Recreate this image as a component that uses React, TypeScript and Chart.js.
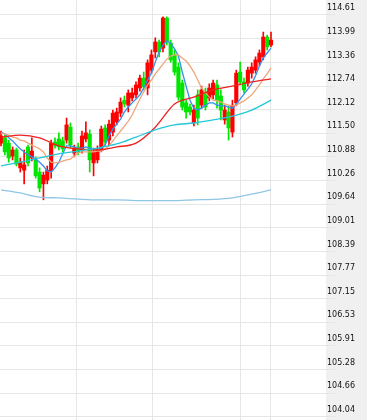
import React, { useEffect, useRef } from "react";
import { Chart, registerables } from "chart.js";
Chart.register(...registerables);

// OHLC (index 0 = leftmost candle)
const opens = [
  111.24, 111.38, 111.24, 110.90, 111.06, 110.59, 110.53, 111.14, 110.85, 110.80,
  110.48, 110.17, 110.27, 110.51, 111.27, 111.35, 111.30, 111.32, 111.66, 110.98,
  111.14, 111.06, 111.35, 111.48, 110.72, 110.80, 111.06, 111.64, 111.32, 111.53,
  111.80, 112.03, 112.37, 112.24, 112.43, 112.51, 112.69, 112.95, 112.69, 113.16,
  113.64, 113.90, 113.74, 114.53, 113.87, 113.56, 113.24, 112.82, 112.30, 112.19,
  111.77, 112.51, 112.24, 112.59, 112.43, 112.51, 112.77, 112.48, 111.85, 112.06,
  111.53, 112.30, 113.11, 112.85, 112.82, 113.08, 113.16, 113.37, 113.51, 114.03,
  113.82,
];
const highs = [
  111.56, 111.45, 111.32, 111.14, 111.11, 110.85, 111.06, 111.19, 111.38, 110.88,
  110.59, 110.48, 110.64, 111.32, 111.38, 111.51, 111.40, 111.90, 111.77, 111.19,
  111.24, 111.56, 111.80, 111.59, 111.11, 111.17, 111.69, 111.72, 111.85, 112.11,
  112.16, 112.43, 112.48, 112.64, 112.69, 112.85, 113.03, 113.11, 113.43, 113.69,
  114.01, 113.95, 114.56, 114.56, 113.95, 113.69, 113.35, 112.90, 112.37, 112.27,
  112.24, 112.64, 112.74, 112.69, 112.80, 112.90, 112.90, 112.64, 112.24, 112.22,
  112.37, 113.16, 113.37, 112.95, 113.24, 113.35, 113.51, 113.69, 114.16, 114.08,
  114.16,
];
const lows = [
  111.17, 110.93, 110.74, 110.80, 110.64, 110.48, 110.17, 110.64, 110.77, 110.32,
  109.96, 109.75, 110.17, 110.32, 111.11, 111.06, 111.01, 111.24, 111.11, 110.88,
  110.93, 110.98, 111.27, 110.48, 110.38, 110.72, 111.01, 111.19, 111.19, 111.43,
  111.72, 111.93, 112.19, 112.06, 112.35, 112.43, 112.61, 112.64, 112.51, 113.08,
  113.48, 113.51, 113.64, 113.82, 113.37, 113.03, 112.37, 112.11, 111.90, 111.98,
  111.69, 111.72, 112.16, 112.11, 112.35, 112.40, 112.16, 111.85, 111.74, 111.32,
  111.40, 112.22, 112.77, 112.56, 112.74, 112.95, 113.08, 113.27, 113.43, 113.69,
  113.77,
];
const closes = [
  111.43, 111.01, 110.85, 111.06, 110.69, 110.74, 110.67, 110.72, 111.03, 110.38,
  110.06, 110.40, 110.53, 111.24, 111.17, 111.14, 111.09, 111.72, 111.19, 111.11,
  111.01, 111.43, 111.51, 110.80, 111.01, 111.06, 111.61, 111.27, 111.74, 112.03,
  112.06, 112.32, 112.27, 112.56, 112.56, 112.77, 112.95, 112.72, 113.35, 113.56,
  113.90, 113.64, 114.53, 113.90, 113.43, 113.11, 112.45, 112.19, 112.06, 112.06,
  112.11, 111.90, 112.64, 112.19, 112.69, 112.82, 112.37, 112.11, 112.11, 111.64,
  112.24, 113.08, 112.85, 112.64, 113.16, 113.24, 113.43, 113.61, 114.03, 113.77,
  113.95,
];

// Moving-average lines
const ma5 = [
  111.53, 111.48, 111.38, 111.30, 111.19, 111.09, 111.01, 110.93, 110.88, 110.82,
  110.74, 110.64, 110.51, 110.48, 110.59, 110.74, 110.96, 111.17, 111.17, 111.14,
  111.11, 111.11, 111.14, 111.11, 111.09, 111.09, 111.11, 111.19, 111.43, 111.61,
  111.74, 111.87, 112.06, 112.19, 112.30, 112.40, 112.51, 112.69, 112.90, 113.08,
  113.37, 113.64, 113.82, 113.93, 113.87, 113.72, 113.53, 113.11, 112.74, 112.37,
  112.16, 112.11, 112.16, 112.24, 112.30, 112.30, 112.24, 112.22, 112.22, 112.19,
  112.16, 112.27, 112.40, 112.53, 112.66, 112.80, 113.01, 113.27, 113.48, 113.61,
  113.74,
];
const ma10 = [
  111.51, 111.48, 111.45, 111.40, 111.38, 111.32, 111.30, 111.24, 111.19, 111.14,
  111.09, 111.01, 110.85, 110.74, 110.72, 110.74, 110.77, 110.80, 110.82, 110.90,
  110.98, 111.01, 111.01, 111.01, 111.01, 111.03, 111.03, 111.09, 111.17, 111.30,
  111.43, 111.56, 111.69, 111.82, 111.98, 112.19, 112.40, 112.59, 112.77, 112.90,
  113.06, 113.19, 113.32, 113.45, 113.53, 113.56, 113.56, 113.48, 113.40, 113.27,
  113.11, 112.90, 112.69, 112.56, 112.45, 112.37, 112.35, 112.32, 112.27, 112.24,
  112.22, 112.24, 112.30, 112.35, 112.43, 112.51, 112.64, 112.77, 112.93, 113.06,
  113.22,
];
const slowIdx = [0, 5, 10, 15, 20, 25, 30, 35, 40, 45, 50, 55, 60, 65, 70];
const maRed = [111.40, 111.45, 111.38, 111.17, 111.09, 111.06, 111.14, 111.24, 111.66, 112.27, 112.45, 112.64, 112.74, 112.85, 112.93];
const maCyan = [110.64, 110.74, 110.85, 110.96, 111.03, 111.11, 111.22, 111.40, 111.59, 111.72, 111.77, 111.85, 111.95, 112.11, 112.37];
const maSlow = [110.01, 109.93, 109.82, 109.80, 109.77, 109.75, 109.75, 109.73, 109.73, 109.73, 109.75, 109.76, 109.80, 109.90, 110.01];

const yTicks = [
  104.04, 104.66, 105.28, 105.91, 106.53, 107.15, 107.77, 108.39, 109.01,
  109.64, 110.26, 110.88, 111.5, 112.12, 112.74, 113.36, 113.99, 114.61,
];
const xGridTicks = [19.45, 39.3, 62.1, 69.9];

const UP = "#ff0000";
const DOWN = "#00e600";
const GRID = "#e6e6e6";

const panelPlugin = {
  id: "rightPanel",
  beforeDraw(chart: any) {
    const { ctx, chartArea, width, height } = chart;
    ctx.save();
    ctx.fillStyle = "#f0f0f0";
    ctx.fillRect(chartArea.right, 0, width - chartArea.right, height);
    ctx.restore();
  },
};

export default function App() {
  const ref = useRef<HTMLCanvasElement | null>(null);
  useEffect(() => {
    if (!ref.current) return;
    const colors = closes.map((c, i) => (c >= opens[i] ? UP : DOWN));
    const idx = (arr: number[]) => arr.map((v, i) => ({ x: i, y: v }));
    const slow = (arr: number[]) => arr.map((v, k) => ({ x: slowIdx[k], y: v }));
    const lineDs = (label: string, data: any[], color: string, smooth: boolean) => ({
      type: "line" as const,
      label,
      data,
      borderColor: color,
      backgroundColor: color,
      borderWidth: 1.3,
      pointRadius: 0,
      tension: 0,
      cubicInterpolationMode: smooth ? ("monotone" as const) : ("default" as const),
      order: 0,
    });
    const chart = new Chart(ref.current, {
      type: "bar",
      data: {
        datasets: [
          {
            type: "bar",
            label: "wick",
            data: lows.map((l, i) => ({ x: i, y: [l, highs[i]] })) as any,
            backgroundColor: colors,
            borderWidth: 0,
            barThickness: 1,
            grouped: false,
            order: 2,
          },
          {
            type: "bar",
            label: "body",
            data: opens.map((o, i) => ({ x: i, y: [o, closes[i]] })) as any,
            backgroundColor: colors,
            borderWidth: 0,
            barThickness: 3.5,
            minBarLength: 1,
            grouped: false,
            order: 1,
          },
          lineDs("slow", slow(maSlow), "#8fc6e6", true),
          lineDs("cyan", slow(maCyan), "#22c8d8", true),
          lineDs("red", slow(maRed), "#ee2020", true),
          lineDs("ma10", idx(ma10), "#eea67a", false),
          lineDs("ma5", idx(ma5), "#3390f0", false),
        ] as any,
      },
      options: {
        animation: false,
        responsive: true,
        maintainAspectRatio: false,
        layout: { padding: 0 },
        plugins: { legend: { display: false }, tooltip: { enabled: false } },
        scales: {
          x: {
            type: "linear",
            min: -0.26,
            max: 84.26,
            offset: false,
            grid: { color: GRID, drawTicks: false, offset: false },
            border: { display: false },
            ticks: { display: false },
            afterBuildTicks: (s: any) => {
              s.ticks = xGridTicks.map((v) => ({ value: v }));
            },
            afterFit: (s: any) => {
              s.height = 0;
            },
          },
          y: {
            position: "right",
            min: 103.961,
            max: 115.004,
            grid: { color: GRID, tickLength: 9 },
            border: { display: false },
            ticks: {
              padding: -8,
              labelOffset: -7,
              color: "#111",
              autoSkip: false,
              font: { family: "DejaVu Sans", size: 8 },
              callback: (v: any) => Number(v).toFixed(2),
            },
            afterBuildTicks: (s: any) => {
              s.ticks = yTicks.map((v) => ({ value: v }));
            },
            afterFit: (s: any) => {
              s.width = 41;
            },
          },
        },
      } as any,
      plugins: [panelPlugin],
    });
    return () => chart.destroy();
  }, []);
  return (
    <div style={{ position: "absolute", left: 0, top: 0, width: 367, height: 420, background: "#fff" }}>
      <canvas ref={ref} />
    </div>
  );
}
